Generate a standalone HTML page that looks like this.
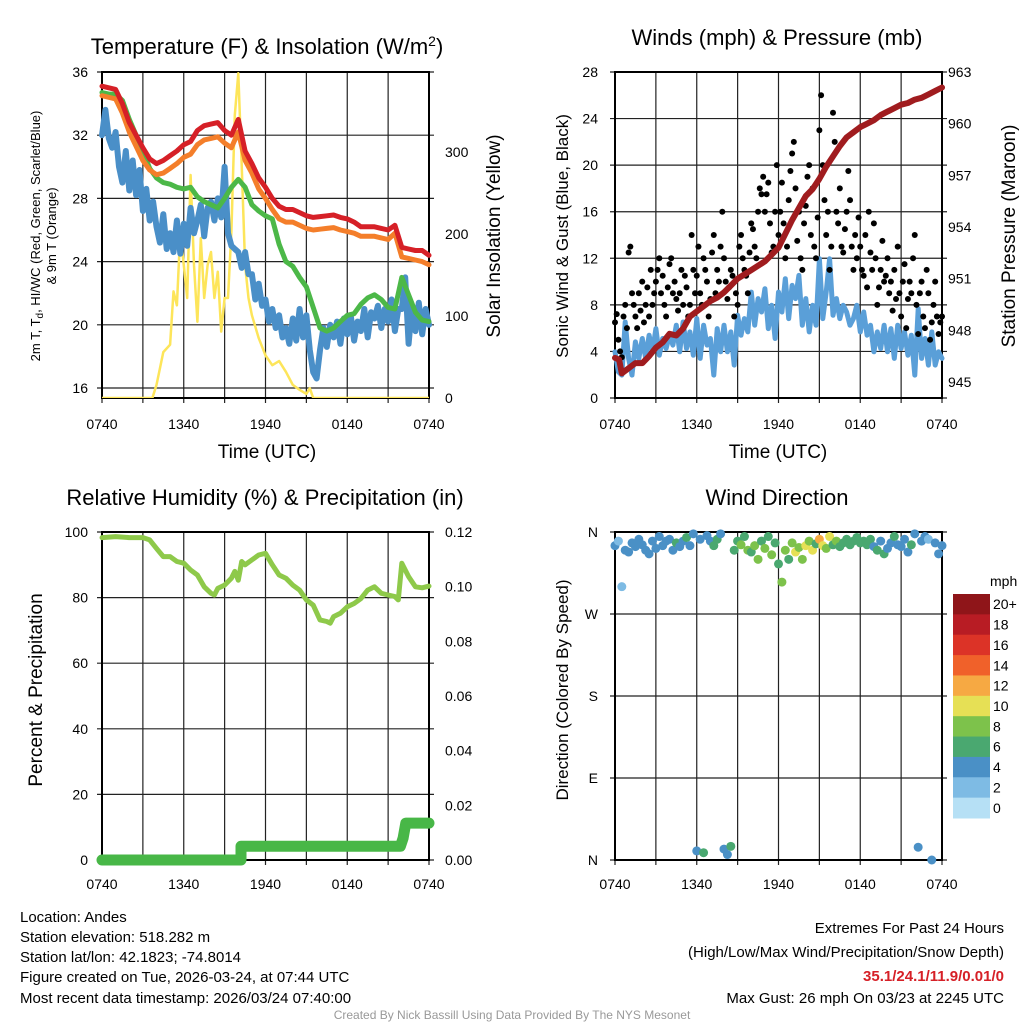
<!DOCTYPE html>
<html><head><meta charset="utf-8"><style>
html,body{margin:0;padding:0;background:#fff}
svg{display:block;font-family:"Liberation Sans",Arial,sans-serif}
</style></head><body>
<svg id="c" width="1024" height="1024" viewBox="0 0 1024 1024">
<text x="267" y="54" font-size="22" text-anchor="middle">Temperature (F) &amp; Insolation (W/m<tspan dy="-8" font-size="14">2</tspan><tspan dy="8">)</tspan></text>
<text x="777" y="45" font-size="22" text-anchor="middle">Winds (mph) &amp; Pressure (mb)</text>
<text x="265" y="505" font-size="22" text-anchor="middle">Relative Humidity (%) &amp; Precipitation (in)</text>
<text x="777" y="505" font-size="22" text-anchor="middle">Wind Direction</text>
<text transform="translate(40,236) rotate(-90)" font-size="13" text-anchor="middle">2m T, T<tspan dy="3" font-size="10">d</tspan><tspan dy="-3">, HI/WC (Red, Green, Scarlet/Blue)</tspan></text>
<text transform="translate(56,236) rotate(-90)" font-size="13" text-anchor="middle">&amp; 9m T (Orange)</text>
<text transform="translate(500,236) rotate(-90)" font-size="19" text-anchor="middle">Solar Insolation (Yellow)</text>
<text transform="translate(568,236) rotate(-90)" font-size="17" text-anchor="middle">Sonic Wind &amp; Gust (Blue, Black)</text>
<text transform="translate(1015,236) rotate(-90)" font-size="19" text-anchor="middle">Station Pressure (Maroon)</text>
<text transform="translate(42,690) rotate(-90)" font-size="19" text-anchor="middle">Percent &amp; Precipitation</text>
<text transform="translate(568,690) rotate(-90)" font-size="17" text-anchor="middle">Direction (Colored By Speed)</text>
<text x="267" y="458" font-size="19" text-anchor="middle">Time (UTC)</text>
<text x="778" y="458" font-size="19" text-anchor="middle">Time (UTC)</text>
<g font-size="15">
<text x="20" y="922">Location: Andes</text>
<text x="20" y="942">Station elevation: 518.282 m</text>
<text x="20" y="962">Station lat/lon: 42.1823; -74.8014</text>
<text x="20" y="982">Figure created on Tue, 2026-03-24, at 07:44 UTC</text>
<text x="20" y="1003">Most recent data timestamp: 2026/03/24 07:40:00</text>
</g>
<g font-size="15" text-anchor="end">
<text x="1004" y="933">Extremes For Past 24 Hours</text>
<text x="1004" y="957">(High/Low/Max Wind/Precipitation/Snow Depth)</text>
<text x="1004" y="981" fill="#d62027" font-weight="bold">35.1/24.1/11.9/0.01/0</text>
<text x="1004" y="1003">Max Gust: 26 mph On 03/23 at 2245 UTC</text>
</g>
<text x="512" y="1019" font-size="12" fill="#999" text-anchor="middle">Created By Nick Bassill Using Data Provided By The NYS Mesonet</text>
</svg>
<script>
// ---------- data ----------
const xTickLabels = ["0740","1340","1940","0140","0740"];
const tempTicks = [36,32,28,24,20,16];
const solarTicks = [0,100,200,300];
const windTicks = [0,4,8,12,16,20,24,28];
const presTicks = [945,948,951,954,957,960,963];
const rhTicks = [0,20,40,60,80,100];
const precipTicks = [0,0.02,0.04,0.06,0.08,0.10,0.12];
const dirTickLabels = ["N","E","S","W","N"];
const dirTickValues = [0,90,180,270,360];
const cbarLabels = ["20+","18","16","14","12","10","8","6","4","2","0"];
const cbarColors = ["#8f1519","#b81c24","#dc3327","#f0612a","#f6a943","#e6e055","#7dc24b","#4aa870","#4a90c6","#7ebbe4","#b6e0f5"];

const temp = [35.1,35.0,34.9,34.0,32.8,32.0,31.2,30.5,30.2,30.4,30.7,31.0,31.4,31.6,32.3,32.6,32.7,32.8,32.3,32.0,33.0,31.0,30.2,29.3,28.7,28.0,27.5,27.3,27.3,27.1,26.9,26.8,26.85,26.9,26.95,26.8,26.7,26.5,26.2,26.2,26.2,26.1,26.0,26.3,24.9,24.8,24.7,24.7,24.4];
const temp9m = [34.5,34.4,34.3,33.4,32.2,31.3,30.4,29.8,29.5,29.6,29.9,30.2,30.6,30.8,31.4,31.7,31.8,31.9,31.5,31.2,32.2,30.4,29.6,28.6,28.0,27.3,26.7,26.5,26.5,26.3,26.1,26.0,26.05,26.1,26.15,26.0,25.9,25.8,25.6,25.6,25.6,25.5,25.4,25.8,24.3,24.2,24.1,24.0,23.8];
const heatIdx = [34.7,34.6,34.6,34.2,33.0,32.0,31.0,29.9,29.3,29.0,28.9,28.7,28.6,28.7,28.1,27.8,27.6,27.4,28.0,28.7,29.2,28.7,27.6,27.2,26.9,26.7,25.1,24.0,23.7,23.0,22.4,21.1,19.8,19.6,19.8,20.2,20.6,20.7,21.3,21.7,21.9,21.6,21.1,21.0,23.0,21.9,20.8,20.3,20.2];
const dewpt = [32,33.6,31.8,31.2, 32.2,30,29,31, 28.5,30.4,28.2,29.8, 27.2,28.6,26.6,27.8, 26.2,25.2,27,24.8, 25.8,24.6,26.6,24.5, 26.4,25,27.4,25.8, 26.6,27.6,25.6,27.4, 27.8,26.6,28,26.8, 30,25.8,25,24.8, 24.6,23.6,24.6,23.2, 23.2,21.6,22.6,21.2, 21.6,20.2,21,19.8, 20.6,19.2,19.8,18.8, 20.4,19,21,19.2, 20.6,18.4,17,16.6, 18.4,19.8,18.6,20, 19.2,20.2,18.8,20.4, 19.4,20.6,19,20.2, 19.6,21,19.2,20.8, 20.4,21.2,19.8,21, 20.2,21.6,19.6,21, 21,23,18.8,21.2, 19.6,21.4,19.4,21, 20];
const solarHours = [0,3.7,4,4.5,5,5.25,5.5,5.75,6,6.25,6.5,6.75,7,7.25,7.5,7.75,8,8.25,8.5,8.75,9,9.25,9.5,9.75,10,10.25,10.5,10.75,11,11.5,12,12.5,13,13.5,14,14.5,15,15.25,15.5,24];
const solar = [0,0,16,56,65,130,113,203,162,122,272,162,93,195,122,162,178,122,154,81,122,122,203,345,396,284,162,122,101,73,52,40,45,32,16,10,5,12,0,0];

const sonic = [3.97,2.25,1.97,6.53, 3.4,1.97,4.82,3.4, 5.11,3.4,5.39,3.97, 5.96,3.68,5.11,4.25, 5.39,4.54,6.25,3.97, 6.53,4.25,5.68,3.68, 6.82,3.4,6.25,4.54, 5.11,1.97,5.96,3.97, 6.25,3.97,5.68,2.83, 7.11,5.39,6.82,5.68, 9.1,6.25,8.54,7.39, 9.39,5.96,7.96,5.11, 9.1,7.39,10.25,6.82, 9.67,8.54,10.53,6.25, 8.54,5.68,7.96,6.25, 11.96,6.82,9.1,11.96, 7.11,8.54,6.82,7.96, 7.39,6.25,6.82,7.96, 5.68,7.39,5.39,6.25, 3.97,5.68,4.25,6.25, 3.97,5.96,3.4,6.25, 4.25,5.68,3.68,5.39, 1.97,7.68,3.4,5.11, 2.83,5.68,2.83,3.97, 3.4];
const gust = [6.5,7.2,5,4,3.5,7,8,6, 12.5,13,9,8,7,6,9,7.5, 10,6.5,8,9.5,7,11,8,9, 10,11,12,9,10.5,8,7,9.5, 11.5,12,9,10,8.5,7.5,9,11, 8,10.5,9.5,7,8,14,11,9, 10.5,13,9,8,12,11,10,7, 8.5,12.5,14,9,11,10,13,16, 12,10,8.5,9.5,11,10.5,7,9, 8,13,14,12,11,10.5,9,12.5, 15,14.5,13,12,16,18,17.5,19, 16,17.5,18.5,15,12.5,13,16,20, 14,16,18.5,15,12,13,17,19.5, 21,22,18,13.5,16,12,11,15, 16.5,19,20,14,18,13,12,15.5, 23,26,20,17,14,16,11,13, 24.5,22,16,15,18,13,12.5,14.5, 16,19.5,17,13,11,14,12,15.5, 13,11,10.5,14,9.5,16,12.5,11, 15,12,8,9.5,11,13.5,10,10.5, 12,9,10,7.5,11,8.5,13,9, 7,10,11.5,6,8.5,10,9,12, 14,8,5.5,9,10,7,6,11, 9,5,6.5,8,10,7,5.5,6.5, 7];
const presHours = [0,0.3,0.5,1,1.5,2,2.5,3,3.5,4,4.5,5,5.5,6,6.5,7,7.5,8,8.5,9,10,11,11.5,12,12.5,13,13.5,14,14.5,15,15.5,16,16.5,17,17.5,18,18.5,19,19.5,20,20.5,21,21.5,22,22.5,23,23.5,24];
const pressure = [946.4,946.3,945.5,945.8,946.1,946.1,946.5,947.0,947.3,947.8,947.7,948.1,948.8,949.1,949.4,949.7,949.9,950.2,950.6,951.0,951.5,952.0,952.4,952.8,953.6,954.4,955.1,955.8,956.2,956.8,957.5,958.1,958.7,959.2,959.5,959.8,960.0,960.2,960.5,960.7,960.9,961.1,961.2,961.4,961.5,961.7,961.9,962.1];

const rhHours = [0,1,2,3,3.5,4,4.5,5,5.5,6,6.5,7,7.5,8,8.25,8.5,9,9.5,9.75,10,10.25,10.5,11,11.5,12,12.5,13,13.5,14,14.5,15,15.5,16,16.5,16.75,17,17.5,18,18.5,19,19.5,20,20.5,21,21.5,21.75,22,22.5,23,23.5,24];
const rh = [98.3,98.6,98.3,98.3,97.6,95.0,92.5,92.5,91.0,90.5,88.4,86.9,83.3,81.3,80.8,82.8,83.8,85.9,88.0,85.3,91.0,90.0,91.5,93.0,93.5,90.0,86.9,85.9,83.8,82.3,79.3,77.7,73.2,72.7,72.2,74.2,75.2,77.2,78.2,79.7,82.3,83.3,81.3,80.8,80.3,79.3,90.5,86.4,83.3,83.0,83.5];
const precipHours = [0,10.2,10.2,21.9,22.1,22.3,24];
const precip = [0,0,0.005,0.005,0.008,0.0135,0.0135];

const dirDeg = [345,350,300,340, 338,348,344,352, 346,340,336,350, 342,355,345,350, 352,340,348,344, 350,354,345,358, 10,352,8,356, 350,345,352,358, 12,6,15,340, 350,346,355,340, 338,345,330,350, 342,355,335,348, 325,305,340,330, 348,338,343,330, 345,350,340,347, 352,345,342,355, 346,350,344,348, 352,346,350,354, 348,350,346,352, 344,340,350,336, 342,348,355,346, 344,352,338,346, 358,14,350,355, 352,0,348,336, 345];
const dirSpeed = [4.5,3.5,2.5,5, 4.8,5.2,4.6,5.5, 4.4,5.6,4.9,5.1, 5.3,4.7,5.8,4.6, 5.2,4.5,6.2,5.4, 4.8,6.5,5.1,4.7, 5.5,4.6,6.3,5.2, 5.8,7.1,6.4,5.3, 4.8,5.2,7.0,6.6, 7.2,8.5,7.4,8.8, 6.9,8.2,9.1,7.6, 8.4,6.8,8.9,7.5, 6.7,8.3,9.2,7.1, 8.6,10.3,8.1,9.4, 10.6,8.8,11.2,7.9, 12.3,10.4,9.6,11.1, 7.6,8.4,6.9,7.8, 6.6,7.3,6.2,7.7, 6.8,7.9,6.4,6.9, 5.6,6.7,5.2,6.3, 5.8,4.9,6.1,5.4, 4.6,5.3,4.8,6.7, 5.1,4.4,5.7,4.5, 3.8,5.2,4.6,5.0, 4.7];

// ---------- drawing ----------
const NS="http://www.w3.org/2000/svg";
const svg=document.getElementById('c');
function el(tag,attrs,parent){const e=document.createElementNS(NS,tag);for(const k in attrs)e.setAttribute(k,attrs[k]);(parent||svg).appendChild(e);return e;}
function lin(d0,d1,r0,r1){return v=>r0+(v-d0)*(r1-r0)/(d1-d0);}

function frame(x0,x1,y0,y1,hGrid,name){
  const g=el('g',{});
  
  
  for(let i=0;i<=8;i++){const x=x0+(x1-x0)*i/8;el('line',{x1:x,y1:y0,x2:x,y2:y1+5,stroke:'#222','stroke-width':1.2},g);}
  hGrid.forEach(y=>el('line',{x1:x0-5,y1:y,x2:x1+5,y2:y,stroke:'#222','stroke-width':1.2},g));
  el('rect',{x:x0,y:y0,width:x1-x0,height:y1-y0,fill:'none',stroke:'#000','stroke-width':2},g);
  return g;
}
function xLabels(x0,x1,y,name){
  xTickLabels.forEach((s,i)=>{const t=el('text',{x:x0+(x1-x0)*i/4,y:y,'font-size':14,'text-anchor':'middle'});t.textContent=s;
  
  });
}
function label(x,y,s,anchor,name){const t=el('text',{x:x,y:y,'font-size':14,'text-anchor':anchor});t.textContent=s;
  
  return t;}
function line(xs,ys,color,w,name){
  const p=el('polyline',{points:xs.map((x,i)=>x.toFixed(1)+','+ys[i].toFixed(1)).join(' '),fill:'none',stroke:color,'stroke-width':w,'stroke-linejoin':'round','stroke-linecap':'round'});
  
  return p;
}
function hoursOf(arr){return arr.map((_,i)=>i*24/(arr.length-1));}

// Panel 1
{const x0=102,x1=429,top=72,bot=398;
 const X=lin(0,24,x0,x1), Y=lin(16,36,388,72), S=lin(0,100,398,316);
 frame(x0,x1,top,bot,tempTicks.map(Y),'temp');
 tempTicks.forEach(v=>label(88,Y(v)+5,String(v),'end','temp-y-tick'));
 solarTicks.forEach(v=>label(445,S(v)+5,String(v),'start','solar-y-tick'));
 xLabels(x0,x1,429,'temp');
 const cp=el('clipPath',{id:'cp1'});el('rect',{x:x0,y:top,width:x1-x0,height:bot-top},cp);
 line(solarHours.map(X),solar.map(S),'#fde55a',2.5,'solar-line').setAttribute('clip-path','url(#cp1)');
 line(hoursOf(dewpt).map(X),dewpt.map(Y),'#4a8fc8',6,'dewpoint-line');
 line(hoursOf(heatIdx).map(X),heatIdx.map(Y),'#4cb848',5,'heat-index-line');
 line(hoursOf(temp9m).map(X),temp9m.map(Y),'#f47e2a',5,'temp-9m-line');
 line(hoursOf(temp).map(X),temp.map(Y),'#d62027',5,'temp-2m-line');
}
// Panel 2
{const x0=615,x1=942,top=72,bot=398;
 const X=lin(0,24,x0,x1), Y=lin(0,28,398,72), P=lin(945,963,382,72);
 frame(x0,x1,top,bot,windTicks.map(Y),'wind');
 windTicks.forEach(v=>label(598,Y(v)+5,String(v),'end','wind-y-tick'));
 presTicks.forEach(v=>label(948,P(v)+5,String(v),'start','pressure-y-tick'));
 xLabels(x0,x1,429,'wind');
 line(hoursOf(sonic).map(X),sonic.map(Y),'#5a9fd8',5,'sonic-wind-line');
 gust.forEach((v,i)=>{const c=el('circle',{cx:X(i*24/(gust.length-1)),cy:Y(v),r:3,fill:'#000'});
   
   });
 line(presHours.map(X),pressure.map(P),'#a01c1f',6,'pressure-line');
}
// Panel 3
{const x0=102,x1=429,top=532,bot=860;
 const X=lin(0,24,x0,x1), Y=lin(0,100,860,532), R=lin(0,0.12,860,532);
 frame(x0,x1,top,bot,rhTicks.map(Y),'rh');
 rhTicks.forEach(v=>label(88,Y(v)+5,String(v),'end','rh-y-tick'));
 precipTicks.forEach(v=>label(445,R(v)+5,v.toFixed(2),'start','precip-y-tick'));
 xLabels(x0,x1,889,'rh');
 line(rhHours.map(X),rh.map(Y),'#8ec94a',5,'rh-line');
 line(precipHours.map(X),precip.map(R),'#48b747',11,'precip-line');
}
// Panel 4
{const x0=615,x1=942,top=532,bot=860;
 const X=lin(0,24,x0,x1), Y=lin(0,360,860,532);
 frame(x0,x1,top,bot,dirTickValues.map(Y),'dir');
 dirTickValues.forEach((v,i)=>label(598,Y(v)+5,dirTickLabels[i],'end','dir-y-tick'));
 xLabels(x0,x1,889,'dir');
 dirDeg.forEach((d,i)=>{const s=dirSpeed[i];const bin=Math.min(10,Math.floor(s/2));
   const c=el('circle',{cx:X(i*24/(dirDeg.length-1)),cy:Y(d),r:4.5,fill:cbarColors[10-bin]});
   
   });
 const cb=el('g',{});
 
 
 const h=(818-594)/11;
 cbarColors.forEach((col,i)=>{el('rect',{x:953,y:594+i*h,width:37,height:h+0.5,fill:col},cb);
   const t=el('text',{x:993,y:594+i*h+h/2+5,'font-size':14},cb);t.textContent=cbarLabels[i];});
 const m=el('text',{x:990,y:586,'font-size':14},cb);m.textContent='mph';
}
</script>
</body></html>
